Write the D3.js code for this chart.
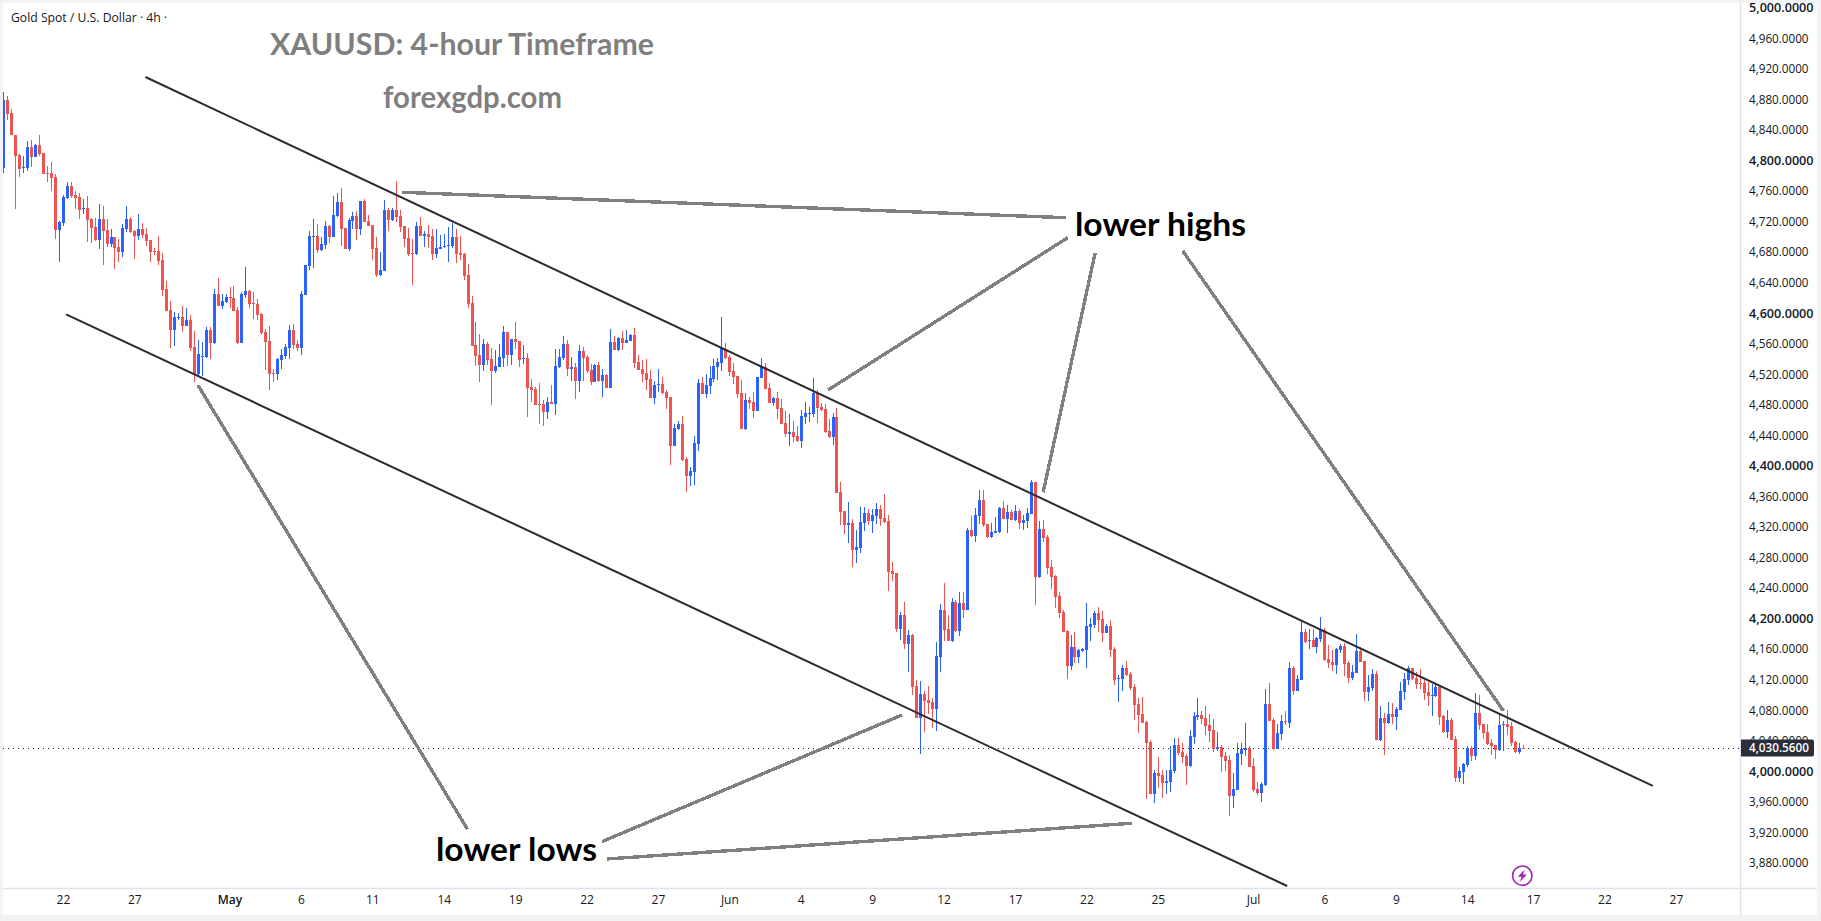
<!DOCTYPE html>
<html>
<head>
<meta charset="utf-8">
<title>XAUUSD 4-hour</title>
<script src="https://cdn.jsdelivr.net/npm/d3@7/dist/d3.min.js"></script>
<style>
  html, body { margin: 0; padding: 0; background: #f2f3f5; overflow: hidden; }
  svg { display: block; }
</style>
</head>
<body>
<svg id="chart" width="1821" height="921"></svg>
<script>
// 4h XAUUSD bars, open/high/low/close per bar
const opens = [
4790,4879,4862,4834,4807,4790,4790,4818,4805,4820,4810,4784,4784,4778,4709,4718,4751,4767,4755,4752,
4737,4738,4723,4713,4696,4723,4709,4691,4700,4687,4680,4710,4723,4708,4701,4710,4704,4696,4681,4681,
4670,4632,4604,4578,4594,4595,4583,4591,4556,4521,4543,4543,4578,4561,4625,4610,4615,4621,4620,4604,
4561,4624,4629,4613,4612,4599,4576,4564,4522,4521,4539,4544,4555,4578,4560,4555,4624,4662,4700,4701,
4683,4689,4714,4700,4727,4746,4712,4684,4721,4727,4710,4747,4721,4716,4686,4650,4655,4735,4722,4735,
4727,4714,4699,4679,4678,4714,4701,4704,4701,4678,4684,4687,4688,4688,4700,4679,4678,4650,4613,4558,
4545,4532,4560,4540,4524,4530,4541,4575,4545,4566,4564,4540,4541,4503,4501,4481,4481,4471,4484,4481,
4530,4541,4560,4527,4530,4511,4551,4543,4526,4510,4532,4511,4519,4502,4562,4552,4568,4561,4564,4572,
4536,4527,4522,4514,4489,4506,4507,4497,4490,4426,4448,4455,4409,4387,4392,4429,4509,4494,4505,4514,
4530,4535,4553,4543,4524,4518,4496,4448,4486,4484,4472,4515,4530,4502,4482,4489,4476,4456,4442,4445,
4439,4433,4464,4468,4468,4496,4477,4475,4446,4438,4464,4366,4341,4323,4325,4290,4293,4325,4338,4328,
4335,4344,4332,4328,4262,4260,4187,4205,4167,4179,4112,4070,4101,4094,4091,4082,4150,4211,4187,4171,
4222,4184,4221,4211,4316,4308,4335,4355,4324,4307,4312,4314,4345,4331,4340,4329,4341,4325,4328,4337,
4379,4255,4317,4307,4268,4256,4230,4209,4184,4138,4163,4150,4158,4159,4189,4192,4207,4200,4181,4190,
4160,4121,4121,4135,4128,4111,4088,4075,4065,4039,3970,3998,3995,3985,3986,4001,4035,4025,4020,4007,
4045,4071,4074,4070,4061,4054,4029,4032,4020,4015,3968,3976,4023,4028,4030,4007,3977,3972,3982,4088,
4067,4029,4049,4066,4063,4135,4105,4120,4183,4171,4172,4163,4173,4185,4147,4143,4139,4159,4164,4142,
4122,4129,4158,4145,4104,4109,4128,4041,4070,4063,4075,4071,4080,4104,4120,4135,4122,4116,4116,4104,
4099,4099,4111,4073,4052,4067,4042,3991,3999,4008,4031,4020,4076,4062,4052,4037,4035,4028,4061,4062,
4059,4039,4025,4031];
const highs = [
4890,4885,4868,4834,4809,4806,4826,4827,4822,4833,4810,4793,4798,4782,4721,4755,4772,4772,4760,4757,
4750,4754,4725,4725,4743,4740,4723,4710,4700,4697,4717,4740,4726,4709,4730,4718,4712,4696,4685,4701,
4679,4642,4616,4602,4600,4609,4607,4598,4577,4565,4562,4582,4582,4632,4646,4625,4625,4634,4636,4608,
4628,4661,4631,4628,4619,4600,4579,4583,4527,4541,4553,4560,4585,4586,4565,4629,4663,4708,4723,4717,
4700,4721,4716,4754,4758,4764,4712,4725,4733,4734,4747,4750,4729,4716,4700,4680,4748,4738,4738,4773,
4735,4714,4712,4697,4720,4726,4708,4716,4710,4710,4703,4704,4713,4718,4710,4701,4679,4665,4623,4589,
4573,4566,4562,4555,4552,4560,4583,4575,4566,4589,4564,4558,4548,4514,4503,4509,4486,4490,4506,4553,
4553,4570,4565,4543,4535,4558,4556,4545,4534,4534,4536,4527,4520,4579,4570,4569,4577,4578,4573,4581,
4545,4539,4540,4526,4511,4527,4517,4500,4490,4455,4459,4465,4412,4399,4439,4514,4517,4520,4531,4540,
4541,4595,4561,4545,4535,4518,4513,4496,4490,4497,4517,4541,4535,4509,4490,4497,4488,4472,4468,4459,
4452,4473,4484,4477,4515,4500,4482,4481,4462,4469,4476,4379,4341,4353,4331,4316,4346,4346,4344,4344,
4352,4349,4363,4336,4274,4260,4209,4222,4185,4180,4120,4118,4105,4112,4096,4170,4219,4247,4205,4227,
4225,4235,4235,4319,4335,4345,4369,4369,4324,4325,4333,4346,4354,4349,4342,4349,4344,4336,4345,4382,
4379,4328,4329,4310,4277,4257,4235,4211,4185,4179,4183,4160,4162,4221,4201,4210,4215,4210,4193,4198,
4163,4126,4139,4145,4130,4115,4096,4098,4066,4041,4002,4019,4002,4002,4033,4044,4044,4037,4023,4054,
4078,4096,4079,4086,4075,4069,4052,4035,4025,4022,3998,4037,4037,4063,4033,4018,3986,3986,4108,4116,
4070,4062,4074,4079,4143,4138,4126,4196,4186,4186,4186,4176,4202,4188,4166,4159,4162,4167,4168,4145,
4139,4180,4163,4145,4126,4134,4131,4086,4076,4091,4090,4084,4117,4129,4138,4135,4130,4134,4120,4117,
4114,4114,4112,4074,4080,4070,4046,4006,4011,4033,4033,4103,4100,4062,4062,4042,4035,4075,4066,4080,
4065,4040,4037,4035];
const lows = [
4783,4853,4833,4736,4778,4784,4786,4792,4805,4806,4782,4772,4760,4697,4667,4714,4750,4751,4737,4723,
4730,4693,4692,4695,4684,4663,4687,4687,4658,4667,4674,4706,4705,4671,4696,4699,4688,4667,4676,4663,
4623,4603,4555,4557,4591,4575,4583,4551,4510,4518,4518,4541,4540,4560,4609,4606,4613,4607,4603,4560,
4561,4620,4607,4593,4591,4572,4526,4500,4510,4513,4527,4540,4540,4553,4551,4545,4624,4657,4659,4679,
4682,4684,4692,4700,4726,4688,4684,4682,4710,4696,4703,4720,4714,4670,4648,4649,4655,4708,4721,4720,
4706,4687,4675,4637,4676,4701,4687,4686,4670,4672,4684,4686,4667,4686,4666,4670,4644,4607,4557,4531,
4510,4524,4532,4480,4522,4530,4530,4531,4532,4553,4530,4534,4464,4484,4480,4455,4452,4462,4481,4467,
4528,4539,4518,4511,4488,4497,4511,4522,4506,4510,4510,4490,4502,4502,4552,4551,4552,4561,4564,4528,
4526,4510,4500,4489,4481,4497,4494,4475,4401,4426,4447,4406,4366,4374,4375,4420,4494,4489,4494,4510,
4513,4524,4540,4518,4507,4489,4448,4447,4475,4463,4472,4515,4501,4482,4479,4462,4455,4438,4426,4431,
4431,4424,4455,4458,4464,4456,4472,4443,4437,4427,4365,4323,4311,4299,4268,4273,4286,4315,4323,4312,
4324,4321,4325,4236,4249,4183,4172,4160,4130,4100,4070,4023,4052,4075,4057,4053,4130,4171,4171,4170,
4183,4177,4201,4211,4307,4300,4324,4320,4306,4306,4312,4312,4331,4312,4329,4328,4317,4316,4319,4337,
4218,4253,4300,4259,4239,4214,4201,4183,4121,4133,4142,4142,4156,4135,4171,4188,4183,4170,4181,4150,
4113,4091,4105,4125,4107,4067,4050,4063,3964,3970,3959,3978,3965,3970,3973,3998,4022,4011,3982,4006,
4036,4067,4062,4048,4039,4025,4027,3999,4001,3942,3952,3976,4008,4020,4006,3973,3969,3960,3981,4066,
4028,4029,4041,4061,4057,4100,4105,4120,4168,4160,4163,4155,4169,4145,4135,4131,4128,4155,4125,4116,
4120,4129,4143,4092,4092,4105,4041,4040,4021,4062,4062,4054,4080,4094,4113,4120,4108,4108,4094,4086,
4073,4097,4061,4050,4044,4041,3986,3986,3983,4006,4014,4015,4054,4042,4035,4021,4016,4027,4027,4048,
4033,4024,4023,4030];
const closes = [
4879,4861,4833,4806,4789,4792,4818,4805,4820,4809,4782,4782,4777,4709,4720,4752,4767,4754,4751,4735,
4738,4722,4712,4696,4723,4708,4691,4700,4685,4680,4712,4723,4706,4701,4710,4702,4695,4680,4680,4668,
4631,4603,4578,4595,4595,4583,4591,4555,4521,4547,4544,4578,4561,4625,4610,4616,4621,4620,4603,4561,
4625,4629,4612,4612,4598,4574,4562,4521,4521,4540,4545,4556,4578,4558,4555,4625,4663,4701,4701,4683,
4691,4714,4700,4729,4746,4710,4684,4722,4727,4710,4747,4720,4714,4684,4650,4657,4735,4722,4735,4726,
4713,4697,4678,4678,4714,4701,4704,4700,4678,4686,4687,4688,4689,4700,4678,4676,4649,4612,4557,4544,
4532,4560,4539,4524,4531,4543,4575,4545,4566,4562,4539,4541,4502,4500,4480,4480,4471,4484,4481,4531,
4543,4560,4527,4530,4511,4551,4541,4524,4510,4532,4511,4519,4502,4562,4552,4568,4561,4565,4572,4535,
4526,4520,4513,4489,4506,4507,4496,4489,4426,4450,4455,4408,4387,4393,4430,4509,4494,4506,4515,4531,
4536,4555,4541,4523,4517,4494,4448,4486,4482,4472,4517,4531,4501,4482,4489,4475,4455,4442,4445,4438,
4433,4465,4469,4469,4496,4476,4473,4445,4438,4464,4365,4340,4323,4325,4290,4294,4327,4338,4328,4336,
4344,4331,4327,4261,4259,4187,4205,4167,4179,4111,4070,4101,4092,4090,4082,4151,4211,4185,4171,4222,
4184,4221,4211,4316,4308,4336,4355,4323,4307,4314,4315,4345,4331,4340,4329,4341,4325,4329,4338,4379,
4255,4317,4306,4266,4255,4228,4207,4183,4138,4163,4150,4159,4160,4190,4193,4207,4198,4181,4190,4159,
4120,4122,4135,4126,4109,4087,4074,4063,4037,3970,3998,3994,3985,3988,4002,4035,4024,4019,4007,4046,
4073,4074,4069,4060,4053,4029,4032,4019,4014,3968,3977,4024,4029,4030,4006,3976,3972,3983,4088,4066,
4029,4050,4066,4065,4135,4105,4121,4183,4169,4172,4163,4175,4186,4146,4142,4139,4160,4164,4141,4122,
4130,4158,4143,4104,4111,4128,4041,4070,4063,4075,4071,4082,4105,4121,4135,4121,4114,4114,4103,4099,
4100,4111,4071,4052,4067,4041,3991,4001,4010,4031,4020,4076,4061,4050,4036,4033,4028,4061,4062,4058,
4037,4025,4031,4030.56];

// Time axis: bar position and label of each tick
const tickBars   = [15, 33, 57, 75, 93, 111, 129, 147, 165, 183, 201, 219, 237, 255, 273, 291, 315, 333, 351, 369, 385.6, 403.6, 421.6];
const tickLabels = ["22","27","May","6","11","14","19","22","27","Jun","4","9","12","17","22","25","Jul","6","9","14","17","22","27"];

// Price axis ticks
const priceTicks = d3.range(3880, 5001, 40);
const lastPrice = 4030.56;

// Drawn annotations, each end as [bar, price]
const channelLines = [
  [[35.8, 4909.4], [415.8, 3980.9]],
  [[15.8, 4598.6], [323.6, 3849.9]]
];
const calloutLines = [
  [[100.5, 4758.4], [267.8, 4725.1]],
  [[268.3, 4698.9], [207.9, 4499.5]],
  [[275.2, 4678.9], [262.1, 4365.5]],
  [[297.3, 4681.5], [378.1, 4079.5]],
  [[49, 4506], [117, 3924.2]],
  [[150.9, 3908], [226.5, 4073.8]],
  [[152.2, 3885.3], [284.4, 3932]]
];

const UP = "#2962ff", DOWN = "#ef5350", BORDER = "#e0e3eb", INK = "#131722";
const paneLeft = 3, paneTop = 3, paneRight = 1740, paneBottom = 888, axisRight = 1817, axisBottom = 915;

const svg = d3.select("#chart");
const x = d3.scaleLinear().domain([0, 100]).range([3.4, 400.1]);
const y = d3.scaleLinear().domain([5000, 3880]).range([7.8, 863]);

// Pane and axis backgrounds
svg.append("rect").attr("x", paneLeft).attr("y", paneTop)
  .attr("width", axisRight - paneLeft).attr("height", axisBottom - paneTop).attr("fill", "#fff");

svg.append("defs").append("clipPath").attr("id", "pane")
  .append("rect").attr("x", paneLeft).attr("y", paneTop)
  .attr("width", paneRight - paneLeft).attr("height", paneBottom - paneTop);

const plot = svg.append("g").attr("clip-path", "url(#pane)");

// Last price marker line, under the candles
plot.append("line")
  .attr("x1", paneLeft).attr("x2", paneRight)
  .attr("y1", Math.round(y(lastPrice)) + 0.5).attr("y2", Math.round(y(lastPrice)) + 0.5)
  .attr("stroke", INK).attr("stroke-width", 1).attr("stroke-dasharray", "1 4")
  .attr("shape-rendering", "crispEdges");

// Candles
const bars = opens.map((o, i) => ({ i, o, h: highs[i], l: lows[i], c: closes[i] }));
const candle = plot.append("g").attr("shape-rendering", "crispEdges")
  .selectAll("g").data(bars).join("g")
  .attr("fill", d => d.c >= d.o ? UP : DOWN);

candle.append("rect")
  .attr("x", d => Math.round(x(d.i)))
  .attr("width", 1)
  .attr("y", d => Math.round(y(d.h)))
  .attr("height", d => Math.max(1, Math.round(y(d.l)) - Math.round(y(d.h))));

candle.append("rect")
  .attr("x", d => Math.round(x(d.i)) - 1)
  .attr("width", 3)
  .attr("y", d => Math.round(y(Math.max(d.o, d.c))))
  .attr("height", d => Math.max(1, Math.round(y(Math.min(d.o, d.c))) - Math.round(y(Math.max(d.o, d.c)))));

// Channel and callout lines
const toLine = d3.line().x(d => x(d[0])).y(d => y(d[1]));

plot.append("g").selectAll("path").data(channelLines).join("path")
  .attr("d", toLine).attr("fill", "none")
  .attr("stroke", "#2a2b30").attr("stroke-width", 2);

svg.append("g").attr("shape-rendering", "crispEdges")
  .selectAll("path").data(calloutLines).join("path")
  .attr("d", toLine).attr("fill", "none")
  .attr("stroke", "#808080").attr("stroke-width", 3.4);

// Axis frame
svg.append("line").attr("x1", paneRight + 0.5).attr("x2", paneRight + 0.5)
  .attr("y1", paneTop).attr("y2", axisBottom).attr("stroke", BORDER).attr("stroke-width", 1.5);
svg.append("line").attr("x1", paneLeft).attr("x2", axisRight)
  .attr("y1", paneBottom + 0.5).attr("y2", paneBottom + 0.5).attr("stroke", BORDER).attr("stroke-width", 1.5);

// Price axis
const priceAxis = d3.axisRight(y).tickValues(priceTicks)
  .tickFormat(d3.format(",.4f")).tickSize(0).tickPadding(0);
const gy = svg.append("g").attr("transform", `translate(1749,0)`).call(priceAxis);
gy.select(".domain").remove();
gy.selectAll("text")
  .attr("font-family", "'Open Sans', sans-serif")
  .attr("font-size", d => d % 200 === 0 ? 12.6 : 11.7)
  .attr("font-weight", d => d % 200 === 0 ? 600 : 400)
  .attr("fill", INK);

// Time axis
const timeAxis = d3.axisBottom(x).tickValues(tickBars)
  .tickFormat((d, i) => tickLabels[i]).tickSize(0).tickPadding(0);
const gx = svg.append("g").attr("transform", `translate(0,895)`).call(timeAxis);
gx.select(".domain").remove();
gx.selectAll("text")
  .attr("font-family", "'Open Sans', sans-serif")
  .attr("font-size", 12)
  .attr("font-weight", (d, i) => tickLabels[i] === "May" ? 600 : 400)
  .attr("fill", INK);

// Last price tag
const tagY = y(lastPrice);
svg.append("path")
  .attr("d", `M1741,${tagY - 8.5}H1812a2,2 0 0 1 2,2V${tagY + 6.5}a2,2 0 0 1 -2,2H1741Z`)
  .attr("fill", "#2a2e39");
svg.append("text").attr("x", 1749).attr("y", tagY).attr("dy", "0.35em")
  .attr("font-family", "'Open Sans', sans-serif").attr("font-size", 11.7)
  .attr("font-weight", 600).attr("fill", "#fff")
  .text(d3.format(",.4f")(lastPrice));

// Chart header
svg.append("text").attr("x", 11).attr("y", 22)
  .attr("font-family", "'Open Sans', sans-serif").attr("font-size", 12.2).attr("fill", INK)
  .text("Gold Spot / U.S. Dollar · 4h ·");

// Titles and callout labels
const labels = [
  { t: "XAUUSD: 4-hour Timeframe", x: 270, y: 55, w: 384, s: 31, c: "#7f7f7f" },
  { t: "forexgdp.com", x: 383, y: 108, w: 179, s: 30, c: "#7f7f7f" },
  { t: "lower highs", x: 1075, y: 236, w: 171, s: 33, c: "#000" },
  { t: "lower lows", x: 436, y: 861, w: 161, s: 33, c: "#000" }
];
svg.append("g").selectAll("text").data(labels).join("text")
  .attr("x", d => d.x).attr("y", d => d.y)
  .attr("font-family", "Lato, sans-serif").attr("font-weight", 700)
  .attr("font-size", d => d.s).attr("fill", d => d.c)
  .attr("textLength", d => d.w).attr("lengthAdjust", "spacingAndGlyphs")
  .text(d => d.t);

// Lightning badge
const badge = svg.append("g").attr("transform", "translate(1522.3,875.7)");
badge.append("circle").attr("r", 9.7).attr("fill", "#fff")
  .attr("stroke", "#9c27b0").attr("stroke-width", 1.6);
badge.append("path").attr("d", "M2.2,-6 L-4.6,1 L-0.8,1 L-2.4,6 L4.6,-1.2 L0.8,-1.2 Z").attr("fill", "#9c27b0");
</script>
</body>
</html>
